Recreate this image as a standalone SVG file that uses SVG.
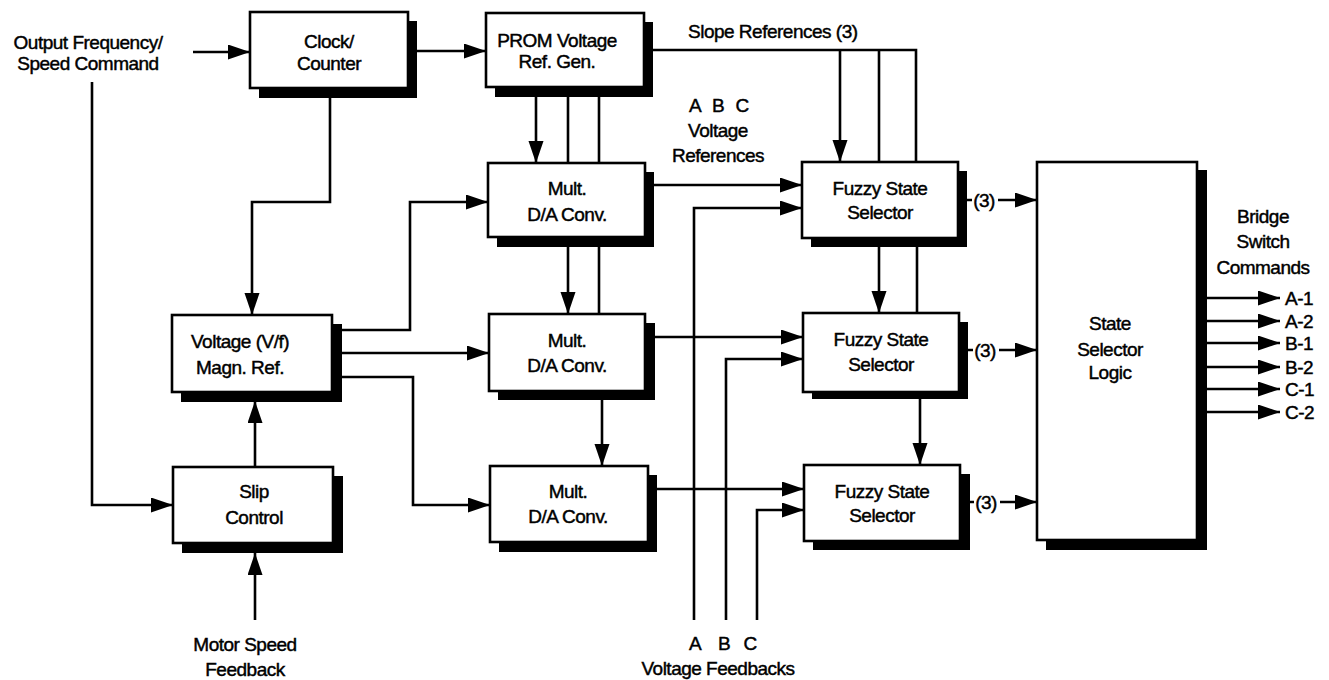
<svg xmlns="http://www.w3.org/2000/svg" width="1329" height="680" viewBox="0 0 1329 680">
<style>
  .ln{fill:none;stroke:#000;stroke-width:2.6;}
  .ar{fill:none;stroke:#000;stroke-width:2.6;marker-end:url(#ah);}
  .box{fill:#fff;stroke:#000;stroke-width:2.6;}
  .sh{fill:#000;}
  text{font-family:"Liberation Sans",Arial,sans-serif;font-size:19px;fill:#000;stroke:#000;stroke-width:0.45px;letter-spacing:-0.5px;}
  .c{text-anchor:middle;}
</style>
<defs>
  <marker id="ah" markerUnits="userSpaceOnUse" markerWidth="24" markerHeight="16" refX="22" refY="7.5" orient="auto">
    <path d="M0,0 L22,7.5 L0,15 z" fill="#000"/>
  </marker>
</defs>
<rect width="1329" height="680" fill="#fff"/>

<g id="connectors">
  <path class="ar" d="M193,52 H250"/>
  <path class="ar" d="M92,82 V505 H173"/>
  <path class="ar" d="M408,51 H486"/>
  <path class="ar" d="M330,88 V202 H252 V315"/>
  <path class="ar" d="M536,87 V163"/>
  <path class="ln" d="M568,87 V163 M599,87 V163"/>
  <path class="ar" d="M568,237 V314"/>
  <path class="ln" d="M599,237 V314"/>
  <path class="ar" d="M602,391 V466"/>
  <path class="ar" d="M332,330 H410 V202 H488"/>
  <path class="ar" d="M332,353 H489"/>
  <path class="ar" d="M332,377 H413 V505 H490"/>
  <path class="ar" d="M645,185 H802"/>
  <path class="ar" d="M645,337 H803"/>
  <path class="ar" d="M648,489 H804"/>
  <path class="ar" d="M694,620 V208 H802"/>
  <path class="ar" d="M726,620 V359 H803"/>
  <path class="ar" d="M757,620 V510 H804"/>
  <path class="ln" d="M644,50 H916 V162 M879,50 V162"/>
  <path class="ar" d="M840,50 V162"/>
  <path class="ar" d="M879,238 V313"/>
  <path class="ln" d="M917,238 V313"/>
  <path class="ar" d="M920,392 V465"/>
  <path class="ln" d="M958,200 H972 M959,350 H973 M960,502 H974"/>
  <path class="ar" d="M998,200 H1037"/>
  <path class="ar" d="M999,350 H1037"/>
  <path class="ar" d="M1000,502 H1037"/>
  <path class="ar" d="M255,467 V401"/>
  <path class="ar" d="M255,620 V553"/>
  <path class="ar" d="M1197,298 H1280"/>
  <path class="ar" d="M1197,321 H1280"/>
  <path class="ar" d="M1197,343 H1280"/>
  <path class="ar" d="M1197,367 H1280"/>
  <path class="ar" d="M1197,389 H1280"/>
  <path class="ar" d="M1197,412 H1280"/>
</g>

<g id="clock">
  <rect class="sh" x="259" y="21" width="158" height="77"/>
  <rect class="box" x="250" y="12" width="158" height="76"/>
  <text class="c" x="329" y="48">Clock/</text>
  <text class="c" x="329" y="70">Counter</text>
</g>
<g id="prom">
  <rect class="sh" x="495" y="22" width="158" height="75"/>
  <rect class="box" x="486" y="13" width="158" height="74"/>
  <text class="c" x="557" y="47">PROM Voltage</text>
  <text class="c" x="557" y="68">Ref. Gen.</text>
</g>
<g id="mult1">
  <rect class="sh" x="497" y="172" width="157" height="75"/>
  <rect class="box" x="488" y="163" width="157" height="74"/>
  <text class="c" x="567" y="195">Mult.</text>
  <text class="c" x="567" y="221">D/A Conv.</text>
</g>
<g id="mult2">
  <rect class="sh" x="498" y="323" width="157" height="77"/>
  <rect class="box" x="489" y="314" width="156" height="77"/>
  <text class="c" x="567" y="347">Mult.</text>
  <text class="c" x="567" y="372">D/A Conv.</text>
</g>
<g id="mult3">
  <rect class="sh" x="499" y="475" width="158" height="77"/>
  <rect class="box" x="490" y="466" width="158" height="76"/>
  <text class="c" x="568" y="498">Mult.</text>
  <text class="c" x="568" y="523">D/A Conv.</text>
</g>
<g id="fuzzy1">
  <rect class="sh" x="811" y="171" width="156" height="76"/>
  <rect class="box" x="802" y="162" width="156" height="76"/>
  <text class="c" x="880" y="195">Fuzzy State</text>
  <text class="c" x="880" y="219">Selector</text>
</g>
<g id="fuzzy2">
  <rect class="sh" x="812" y="322" width="156" height="77"/>
  <rect class="box" x="803" y="313" width="156" height="79"/>
  <text class="c" x="881" y="346">Fuzzy State</text>
  <text class="c" x="881" y="371">Selector</text>
</g>
<g id="fuzzy3">
  <rect class="sh" x="813" y="474" width="157" height="76"/>
  <rect class="box" x="804" y="465" width="156" height="76"/>
  <text class="c" x="882" y="498">Fuzzy State</text>
  <text class="c" x="882" y="522">Selector</text>
</g>
<g id="state-logic">
  <rect class="sh" x="1046" y="170" width="161" height="380"/>
  <rect class="box" x="1037" y="162" width="160" height="378"/>
  <text class="c" x="1110" y="330">State</text>
  <text class="c" x="1110" y="356">Selector</text>
  <text class="c" x="1110" y="379">Logic</text>
</g>
<g id="voltage-ref">
  <rect class="sh" x="181" y="324" width="161" height="78"/>
  <rect class="box" x="172" y="315" width="160" height="77"/>
  <text class="c" x="240" y="348">Voltage (V/f)</text>
  <text class="c" x="240" y="374">Magn. Ref.</text>
</g>
<g id="slip">
  <rect class="sh" x="182" y="476" width="161" height="77"/>
  <rect class="box" x="173" y="467" width="160" height="76"/>
  <text class="c" x="254" y="498">Slip</text>
  <text class="c" x="254" y="524">Control</text>
</g>

<g id="labels">
  <text class="c" x="88" y="49">Output Frequency/</text>
  <text class="c" x="88" y="70">Speed Command</text>
  <text x="688" y="38">Slope References (3)</text>
  <text class="c" x="695" y="112">A</text>
  <text class="c" x="718" y="112">B</text>
  <text class="c" x="742" y="112">C</text>
  <text class="c" x="718" y="137">Voltage</text>
  <text class="c" x="718" y="162">References</text>
  <text class="c" x="984" y="207">(3)</text>
  <text class="c" x="985" y="357">(3)</text>
  <text class="c" x="986" y="509">(3)</text>
  <text class="c" x="1263" y="223">Bridge</text>
  <text class="c" x="1263" y="248">Switch</text>
  <text class="c" x="1263" y="274">Commands</text>
  <text x="1285" y="305">A-1</text>
  <text x="1285" y="328">A-2</text>
  <text x="1285" y="350">B-1</text>
  <text x="1285" y="374">B-2</text>
  <text x="1285" y="396">C-1</text>
  <text x="1285" y="419">C-2</text>
  <text class="c" x="245" y="651">Motor Speed</text>
  <text class="c" x="245" y="676">Feedback</text>
  <text class="c" x="695" y="650">A</text>
  <text class="c" x="724" y="650">B</text>
  <text class="c" x="750" y="650">C</text>
  <text class="c" x="718" y="675">Voltage Feedbacks</text>
</g>
</svg>
